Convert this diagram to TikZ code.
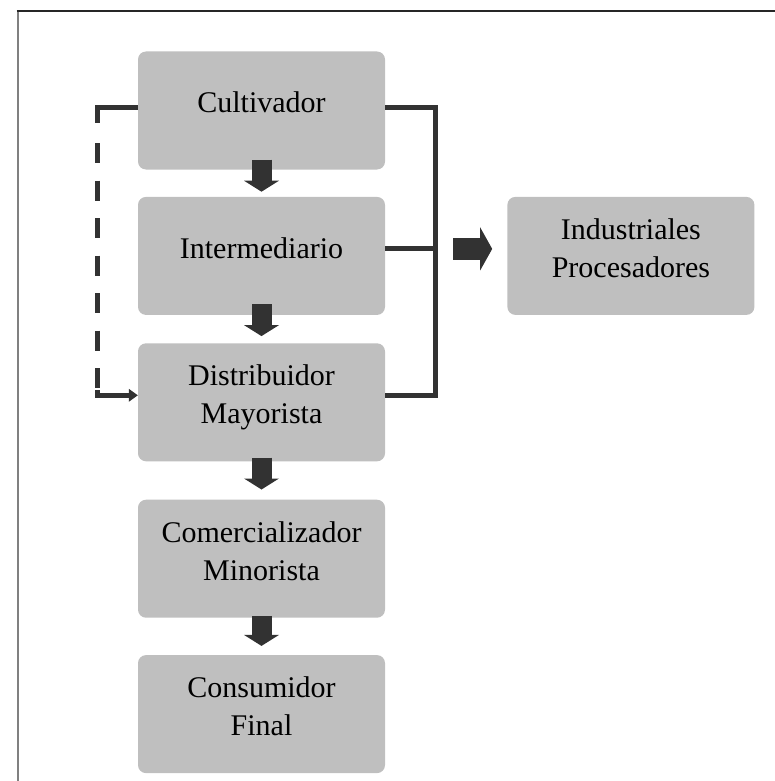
\documentclass[tikz,border=0pt]{standalone}
\usepackage{fontspec}
\setmainfont{Liberation Serif}
\usetikzlibrary{arrows.meta,positioning}
\definecolor{boxgray}{RGB}{191,191,191}
\definecolor{arrowgray}{RGB}{50,50,50}
\tikzset{
  box/.style={fill=boxgray, rounded corners=8pt, minimum width=247pt, minimum height=118pt,
    inner sep=0pt, text depth=16pt, align=center, font=\fontsize{30}{38}\selectfont},
  blockdown/.style={arrowgray, line width=20pt, -{Triangle[width=35pt,length=11pt,line width=0pt]}},
  blockright/.style={arrowgray, line width=22pt, -{Triangle[width=43pt,length=12pt,line width=0pt]}},
  bracket/.style={arrowgray, line width=5pt, line join=miter},
  sidelink/.style={arrowgray, line width=5pt, line join=miter},
}
\begin{document}
\begin{tikzpicture}[x=1pt, y=-1pt]
\useasboundingbox (0,0) rectangle (775,781);
% frame
\draw[gray, line width=2pt] (17.5,781) -- (17.5,11);
\draw[black!85, line width=2pt] (16.5,11) -- (775,11);
% boxes
\node[box] (cult) at (261.5,110.5) {Cultivador};
\node[box, below=27pt of cult] (inter) {Intermediario};
\node[box, below=28pt of inter] (dist) {Distribuidor\\Mayorista};
\node[box, below=38pt of dist] (comer) {Comercializador\\Minorista};
\node[box, below=37pt of comer] (cons) {Consumidor\\Final};
\node[box, right=122pt of inter] (indus) {Industriales\\Procesadores};
% block arrows down
\draw[blockdown] ([yshift=10pt]cult.south) -- ([yshift=5pt]inter.north);
\draw[blockdown] ([yshift=11pt]inter.south) -- ([yshift=7pt]dist.north);
\draw[blockdown] ([yshift=4pt]dist.south) -- ([yshift=10pt]comer.north);
\draw[blockdown] ([yshift=2pt]comer.south) -- ([yshift=9pt]cons.north);
% right bracket
\coordinate (bx) at (435,0);
\draw[bracket] ([yshift=2.5pt]cult.east) -| ([yshift=7pt]dist.east -| bx) -- ([yshift=7pt]dist.east);
\draw[bracket] ([yshift=7pt]inter.east) -- ([yshift=7pt]inter.east -| bx) coordinate (join);
\draw[blockright] ([xshift=18pt]join) -- ([xshift=-15pt]join -| indus.west);
% left dashed link
\coordinate (lt) at (97.5,108);
\coordinate (lb) at ([yshift=7pt]dist.west -| lt);
\draw[sidelink] ([yshift=2.5pt]cult.west) -- (lt) -- ([yshift=-15pt]lt);
\draw[sidelink, dash pattern=on 20pt off 17.5pt, dash phase=-15pt] ([yshift=-20pt]lt) -- ([yshift=5pt]lb);
\draw[sidelink, -{Triangle[width=13pt,length=9pt,line width=0pt]}] ([yshift=5pt]lb) -- (lb) -- ([yshift=7pt]dist.west);
\end{tikzpicture}
\end{document}
